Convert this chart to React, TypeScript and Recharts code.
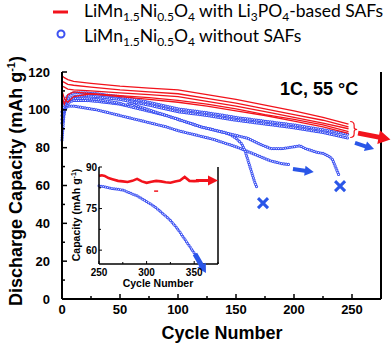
import React from 'react';
import { ComposedChart, Line, Scatter, XAxis, YAxis } from 'recharts';

const RED = '#f2131c';
const BLUE = '#3d52f2';
const ARROW_BLUE = '#2a56e8';
const FONT = '"Liberation Sans", Arial, sans-serif';
const LEGEND_FONT = 'Lato, "Open Sans", sans-serif';

// ---------- main chart data ----------
const redCycles = [0, 2, 5, 10, 25, 50, 75, 100, 125, 150, 175, 200, 225, 247];
const red1 = [118, 117, 116, 115, 114, 112.5, 111.5, 110.5, 108, 105.5, 102.5, 99.5, 96, 92.5];
const red2 = [115, 114.5, 113.5, 113, 112, 110.5, 109.5, 108.5, 106, 103.5, 100.5, 97.5, 94.5, 91];
const red3 = [112.5, 112, 111, 110.5, 110, 109, 108, 107, 104.5, 102, 99, 96, 93, 90];
const red4 = [110, 106, 104, 107, 108.5, 107.5, 106.5, 105, 103, 100.5, 97.5, 95, 92, 88.5];
const red5 = [107, 103, 108, 109.5, 108.5, 107, 105.5, 104, 102, 99.5, 97, 94, 91, 87.5];

const b1Cycles = [0, 3, 6, 10, 20, 30, 50, 75, 100, 125, 150, 175, 200, 225, 247];
const b1a = [99, 106, 108, 109, 109, 108.5, 107, 104, 100.5, 98.5, 96, 94, 92, 89.5, 87];
const b1b = [97, 104, 106, 107, 107.5, 107, 105.5, 102.5, 99, 97, 94.5, 92.5, 90.5, 88, 85];

const b2Cycles = [0, 3, 6, 10, 20, 30, 40, 50, 55, 60, 65, 70, 80, 90, 100, 110, 120, 130, 140, 150, 160, 170, 180, 190, 200, 205, 210, 220, 225, 230, 233, 235, 237, 239];
const b2 = [95, 103, 105, 106, 106, 105.5, 104.5, 103.5, 102.5, 103.5, 102, 101, 99, 97, 95, 93, 91, 89.5, 88, 86.5, 85, 82, 79.5, 79.5, 80.5, 81, 79.5, 77.5, 77, 75.5, 74, 71, 68, 65];

const b3Cycles = [0, 3, 6, 10, 20, 30, 50, 70, 90, 100, 110, 120, 130, 140, 145, 150, 155, 158, 160, 163, 166, 168];
const b3 = [93, 101, 104, 105, 105, 104.5, 103, 100, 97, 95, 93, 91, 89.5, 88, 87, 85, 82, 78, 74, 68, 62, 59];

const b4Cycles = [0, 2, 5, 10, 20, 30, 40, 50, 60, 70, 80, 90, 100, 110, 120, 130, 140, 150, 160, 170, 180, 190, 197];
const b4 = [84, 100, 102, 102, 101, 100, 98.5, 97, 95.5, 94, 92.5, 91, 89, 87.5, 86, 84.5, 82.5, 80.5, 78, 75.5, 73, 71.5, 71];

// annotation anchors (data coordinates)
const failMarks = [{ c: 239.7, v: 59.7 }, { c: 173.3, v: 50.7 }];
const redArrowTail = [{ c: 255.2, v: 87.7 }];
const braceMark = [{ c: 251, v: 89.6 }];
const blueArrowTail = [{ c: 252.6, v: 82.5 }];
const lowBlueArrowTail = [{ c: 199.1, v: 68.7 }];

const mainXTicks = [0, 25, 50, 75, 100, 125, 150, 175, 200, 225, 250, 275];
const mainYTicks = [0, 10, 20, 30, 40, 50, 60, 70, 80, 90, 100, 110, 120];

// ---------- inset data ----------
const insetRedCycles = [250, 253, 256, 260, 264, 270, 275, 280, 285, 290, 295, 300, 305, 310, 315, 320, 325, 330, 335, 340, 345, 350, 355];
const insetRed = [86.8, 87, 86.8, 86, 85.6, 85, 84.8, 84.6, 85, 85.7, 84.8, 84.3, 84.7, 85, 84.8, 84.5, 84.3, 84.8, 85.1, 86.4, 85, 84.9, 85];
const insetBlueCycles = [250, 255, 260, 265, 270, 275, 280, 285, 290, 295, 300, 305, 310, 315, 320, 325, 330, 335, 340, 345, 350, 352];
const insetBlue = [83.2, 82.9, 82.5, 82.2, 82, 81.7, 81, 80.3, 79.6, 78.6, 77.5, 76.5, 75.3, 73.8, 72.3, 70.7, 68.8, 66.5, 64, 61.5, 59, 58];
const insetStray = [{ c: 310, v: 81.3 }];
const insetRedArrowTail = [{ c: 351.9, v: 85.1 }];
const insetBlueArrowTail = [{ c: 350.8, v: 58.6 }];
const insetXTicks = [250, 275, 300, 325, 350, 375];
const insetYTicks = [55, 60, 67.5, 75, 82.5, 90];

const zip = (cs: number[], vs: number[]) => cs.map((c, i) => ({ c, v: vs[i] }));

// ---------- shapes ----------
const makeArrow = (len: number, angle: number, shaft: number, headW: number, headL: number, color: string) =>
  (props: any) => {
    const { cx, cy } = props;
    const s = shaft / 2, h = headW / 2, b = len - headL;
    const pts = `0,${-s} ${b},${-s} ${b},${-h} ${len},0 ${b},${h} ${b},${s} 0,${s}`;
    return <polygon points={pts} fill={color} transform={`translate(${cx},${cy}) rotate(${angle})`} />;
  };

const XMark = (props: any) => {
  const { cx, cy } = props;
  const d = 5;
  return (
    <g stroke={ARROW_BLUE} strokeWidth={3}>
      <line x1={cx - d} y1={cy - d} x2={cx + d} y2={cy + d} />
      <line x1={cx - d} y1={cy + d} x2={cx + d} y2={cy - d} />
    </g>
  );
};

const Brace = (props: any) => {
  const { cx, cy } = props;
  const d = `M${cx - 3},${cy - 8} Q${cx + 1},${cy - 8} ${cx + 1},${cy - 4} L${cx + 1},${cy - 2} Q${cx + 1},${cy} ${cx + 4},${cy} Q${cx + 1},${cy} ${cx + 1},${cy + 2} L${cx + 1},${cy + 4} Q${cx + 1},${cy + 8} ${cx - 3},${cy + 8}`;
  return <path d={d} fill="none" stroke={RED} strokeWidth={1.2} />;
};

const StrayDash = (props: any) => {
  const { cx, cy } = props;
  return <line x1={cx - 2} x2={cx + 2} y1={cy} y2={cy} stroke={RED} strokeWidth={1.5} />;
};

// ---------- ticks ----------
const MainYTick = (props: any) => {
  const { x, y, payload } = props;
  const v = payload.value;
  const major = v % 20 === 0;
  return (
    <g>
      <line x1={x} x2={x + (major ? 5 : 3)} y1={y} y2={y} stroke="#000" strokeWidth={1.5} />
      {major && (
        <text x={x - 12} y={y + 4.5} textAnchor="end" fontSize={13} fontWeight="bold" fontFamily={FONT} fill="#000">
          {v}
        </text>
      )}
    </g>
  );
};
const MainYRightTick = (props: any) => {
  const { x, y, payload } = props;
  const major = payload.value % 20 === 0;
  return <line x1={x} x2={x - (major ? 5 : 3)} y1={y} y2={y} stroke="#000" strokeWidth={1.5} />;
};
const MainXTick = (props: any) => {
  const { x, y, payload } = props;
  const v = payload.value;
  const major = v % 50 === 0;
  return (
    <g>
      <line x1={x} x2={x} y1={y} y2={y - (major ? 5 : 3)} stroke="#000" strokeWidth={1.5} />
      {major && (
        <text x={x} y={y + 15} textAnchor="middle" fontSize={13} fontWeight="bold" fontFamily={FONT} fill="#000">
          {v}
        </text>
      )}
    </g>
  );
};

const InsetYTick = (props: any) => {
  const { x, y, payload } = props;
  const v = payload.value;
  const major = v === 60 || v === 75 || v === 90;
  if (v === 55) return <g />;
  return (
    <g>
      <line x1={x} x2={x + (major ? 3 : 2)} y1={y} y2={y} stroke="#000" strokeWidth={1} />
      {major && (
        <text x={x - 2} y={y + 3.5} textAnchor="end" fontSize={10} fontWeight="bold" fontFamily={FONT} fill="#000">
          {v}
        </text>
      )}
    </g>
  );
};
const InsetYRightTick = (props: any) => {
  const { x, y, payload } = props;
  const v = payload.value;
  const major = v === 60 || v === 75 || v === 90;
  if (v === 55) return <g />;
  return (
    <g>
      <line x1={x} x2={x - (major ? 3 : 2)} y1={y} y2={y} stroke="#000" strokeWidth={1} />
      {major && (
        <text x={x + 3} y={y + 3.5} textAnchor="start" fontSize={10} fontWeight="bold" fontFamily={FONT} fill="#000">
          {v}
        </text>
      )}
    </g>
  );
};
const InsetXTick = (props: any) => {
  const { x, y, payload } = props;
  const v = payload.value;
  const major = v % 50 === 0;
  return (
    <g>
      <line x1={x} x2={x} y1={y} y2={y - (major ? 3 : 2)} stroke="#000" strokeWidth={1} />
      {major && (
        <text x={x} y={y + 12} textAnchor="middle" fontSize={10} fontWeight="bold" fontFamily={FONT} fill="#000">
          {v}
        </text>
      )}
    </g>
  );
};

const ringSeries = (key: string, data: any[], outer: number, inner: number, gap: number) => [
  <Line key={key + 'o'} data={data} dataKey="v" type="linear" stroke={BLUE} strokeWidth={outer} strokeDasharray={`0 ${gap}`} strokeLinecap="round" dot={false} activeDot={false} isAnimationActive={false} />,
  <Line key={key + 'i'} data={data} dataKey="v" type="linear" stroke="#ffffff" strokeWidth={inner} strokeDasharray={`0 ${gap}`} strokeLinecap="round" dot={false} activeDot={false} isAnimationActive={false} />,
];

const redLine = (key: string, data: any[], w: number) => (
  <Line key={key} data={data} dataKey="v" type="linear" stroke={RED} strokeWidth={w} dot={false} activeDot={false} isAnimationActive={false} />
);

export default function App() {
  const axisLine = { stroke: '#000', strokeWidth: 2 };
  const insetAxisLine = { stroke: '#000', strokeWidth: 1.5 };
  return (
    <div style={{ position: 'absolute', left: 0, top: 0, width: 392, height: 344, background: '#fff' }}>
      <div style={{ position: 'absolute', left: 0, top: 0 }}>
        <ComposedChart width={392} height={344} margin={{ top: 72, right: 0, bottom: 0, left: 0 }}>
          <XAxis dataKey="c" type="number" domain={[0, 275]} ticks={mainXTicks} interval={0} height={45} axisLine={axisLine} tickLine={false} tickSize={0} tickMargin={0} tick={<MainXTick />} />
          <XAxis xAxisId="top" orientation="top" type="number" domain={[0, 275]} height={0} axisLine={axisLine} tick={false} tickLine={false} />
          <YAxis type="number" domain={[0, 120]} ticks={mainYTicks} interval={0} width={62} axisLine={axisLine} tickLine={false} tickSize={0} tickMargin={0} tick={<MainYTick />} />
          <YAxis yAxisId="right" orientation="right" type="number" domain={[0, 120]} ticks={mainYTicks} interval={0} width={11} axisLine={axisLine} tickLine={false} tickSize={0} tickMargin={0} tick={<MainYRightTick />} />
          {ringSeries('b4', zip(b4Cycles, b4), 3.2, 1.2, 2.3)}
          {ringSeries('b3', zip(b3Cycles, b3), 3.2, 1.2, 2.3)}
          {ringSeries('b2', zip(b2Cycles, b2), 3.2, 1.2, 2.3)}
          {ringSeries('b1b', zip(b1Cycles, b1b), 3.2, 1.2, 2.3)}
          {ringSeries('b1a', zip(b1Cycles, b1a), 3.2, 1.2, 2.3)}
          {redLine('r5', zip(redCycles, red5), 1.3)}
          {redLine('r4', zip(redCycles, red4), 1.3)}
          {redLine('r3', zip(redCycles, red3), 1.3)}
          {redLine('r2', zip(redCycles, red2), 1.3)}
          {redLine('r1', zip(redCycles, red1), 1.3)}
          <Scatter data={failMarks} dataKey="v" shape={XMark} isAnimationActive={false} />
          <Scatter data={redArrowTail} dataKey="v" shape={makeArrow(33, 11, 5, 14, 12, RED)} isAnimationActive={false} />
          <Scatter data={braceMark} dataKey="v" shape={Brace} isAnimationActive={false} />
          <Scatter data={blueArrowTail} dataKey="v" shape={makeArrow(20, 18, 4, 10, 9, ARROW_BLUE)} isAnimationActive={false} />
          <Scatter data={lowBlueArrowTail} dataKey="v" shape={makeArrow(21, 8, 4, 10, 9, ARROW_BLUE)} isAnimationActive={false} />
        </ComposedChart>
      </div>

      <div style={{ position: 'absolute', left: 60, top: 160 }}>
        <ComposedChart width={185} height={135} margin={{ top: 7, right: 0, bottom: 0, left: 0 }}>
          <XAxis dataKey="c" type="number" domain={[250, 375]} ticks={insetXTicks} interval={0} height={31} axisLine={insetAxisLine} tickLine={false} tickSize={0} tickMargin={0} tick={<InsetXTick />} />
          <XAxis xAxisId="top" orientation="top" type="number" domain={[250, 375]} height={0} axisLine={insetAxisLine} tick={false} tickLine={false} />
          <YAxis type="number" domain={[55, 90]} ticks={insetYTicks} interval={0} width={39} axisLine={insetAxisLine} tickLine={false} tickSize={0} tickMargin={0} tick={<InsetYTick />} />
          <YAxis yAxisId="right" orientation="right" type="number" domain={[55, 90]} ticks={insetYTicks} interval={0} width={27} axisLine={insetAxisLine} tickLine={false} tickSize={0} tickMargin={0} tick={<InsetYRightTick />} />
          {ringSeries('ib', zip(insetBlueCycles, insetBlue), 3, 1.1, 2.2)}
          {redLine('ir', zip(insetRedCycles, insetRed), 2.6)}
          <Scatter data={insetStray} dataKey="v" shape={StrayDash} isAnimationActive={false} />
          <Scatter data={insetRedArrowTail} dataKey="v" shape={makeArrow(22, 0, 3, 10, 10, RED)} isAnimationActive={false} />
          <Scatter data={insetBlueArrowTail} dataKey="v" shape={makeArrow(22, 60, 5, 10, 9, ARROW_BLUE)} isAnimationActive={false} />
        </ComposedChart>
      </div>

      <svg width={392} height={344} style={{ position: 'absolute', left: 0, top: 0, pointerEvents: 'none' }}>
        <line x1={53} x2={68} y1={12} y2={12} stroke={RED} strokeWidth={3} />
        <text x={84} y={17} fontSize={17.5} fontFamily={LEGEND_FONT} fill="#000">
          LiMn<tspan fontSize={12} dy={3.5}>1.5</tspan><tspan dy={-3.5}>Ni</tspan><tspan fontSize={12} dy={3.5}>0.5</tspan><tspan dy={-3.5}>O</tspan><tspan fontSize={12} dy={3.5}>4</tspan><tspan dy={-3.5}> with Li</tspan><tspan fontSize={12} dy={3.5}>3</tspan><tspan dy={-3.5}>PO</tspan><tspan fontSize={12} dy={3.5}>4</tspan><tspan dy={-3.5}>-based SAFs</tspan>
        </text>
        <circle cx={61} cy={34} r={3.5} fill="none" stroke={BLUE} strokeWidth={2} />
        <text x={84} y={42} fontSize={17.5} fontFamily={LEGEND_FONT} fill="#000">
          LiMn<tspan fontSize={12} dy={3.5}>1.5</tspan><tspan dy={-3.5}>Ni</tspan><tspan fontSize={12} dy={3.5}>0.5</tspan><tspan dy={-3.5}>O</tspan><tspan fontSize={12} dy={3.5}>4</tspan><tspan dy={-3.5}> without SAFs</tspan>
        </text>
        <text x={280} y={95} fontSize={18} fontWeight="bold" fontFamily={FONT} fill="#000">1C, 55 °C</text>
        <text x={222} y={339} fontSize={18} fontWeight="bold" fontFamily={FONT} fill="#000" textAnchor="middle">Cycle Number</text>
        <text x={22} y={181} fontSize={18} fontWeight="bold" fontFamily={FONT} fill="#000" textAnchor="middle" transform="rotate(-90 22 181)">
          Discharge Capacity (mAh g<tspan fontSize={11} dy={-7}>-1</tspan><tspan dy={7}>)</tspan>
        </text>
        <text x={158} y={287} fontSize={10.5} fontWeight="bold" fontFamily={FONT} fill="#000" textAnchor="middle">Cycle Number</text>
        <text x={80} y={215} fontSize={10.5} fontWeight="bold" fontFamily={FONT} fill="#000" textAnchor="middle" transform="rotate(-90 80 215)">
          Capacity (mAh g<tspan fontSize={7} dy={-4}>-1</tspan><tspan dy={4}>)</tspan>
        </text>
      </svg>
    </div>
  );
}
